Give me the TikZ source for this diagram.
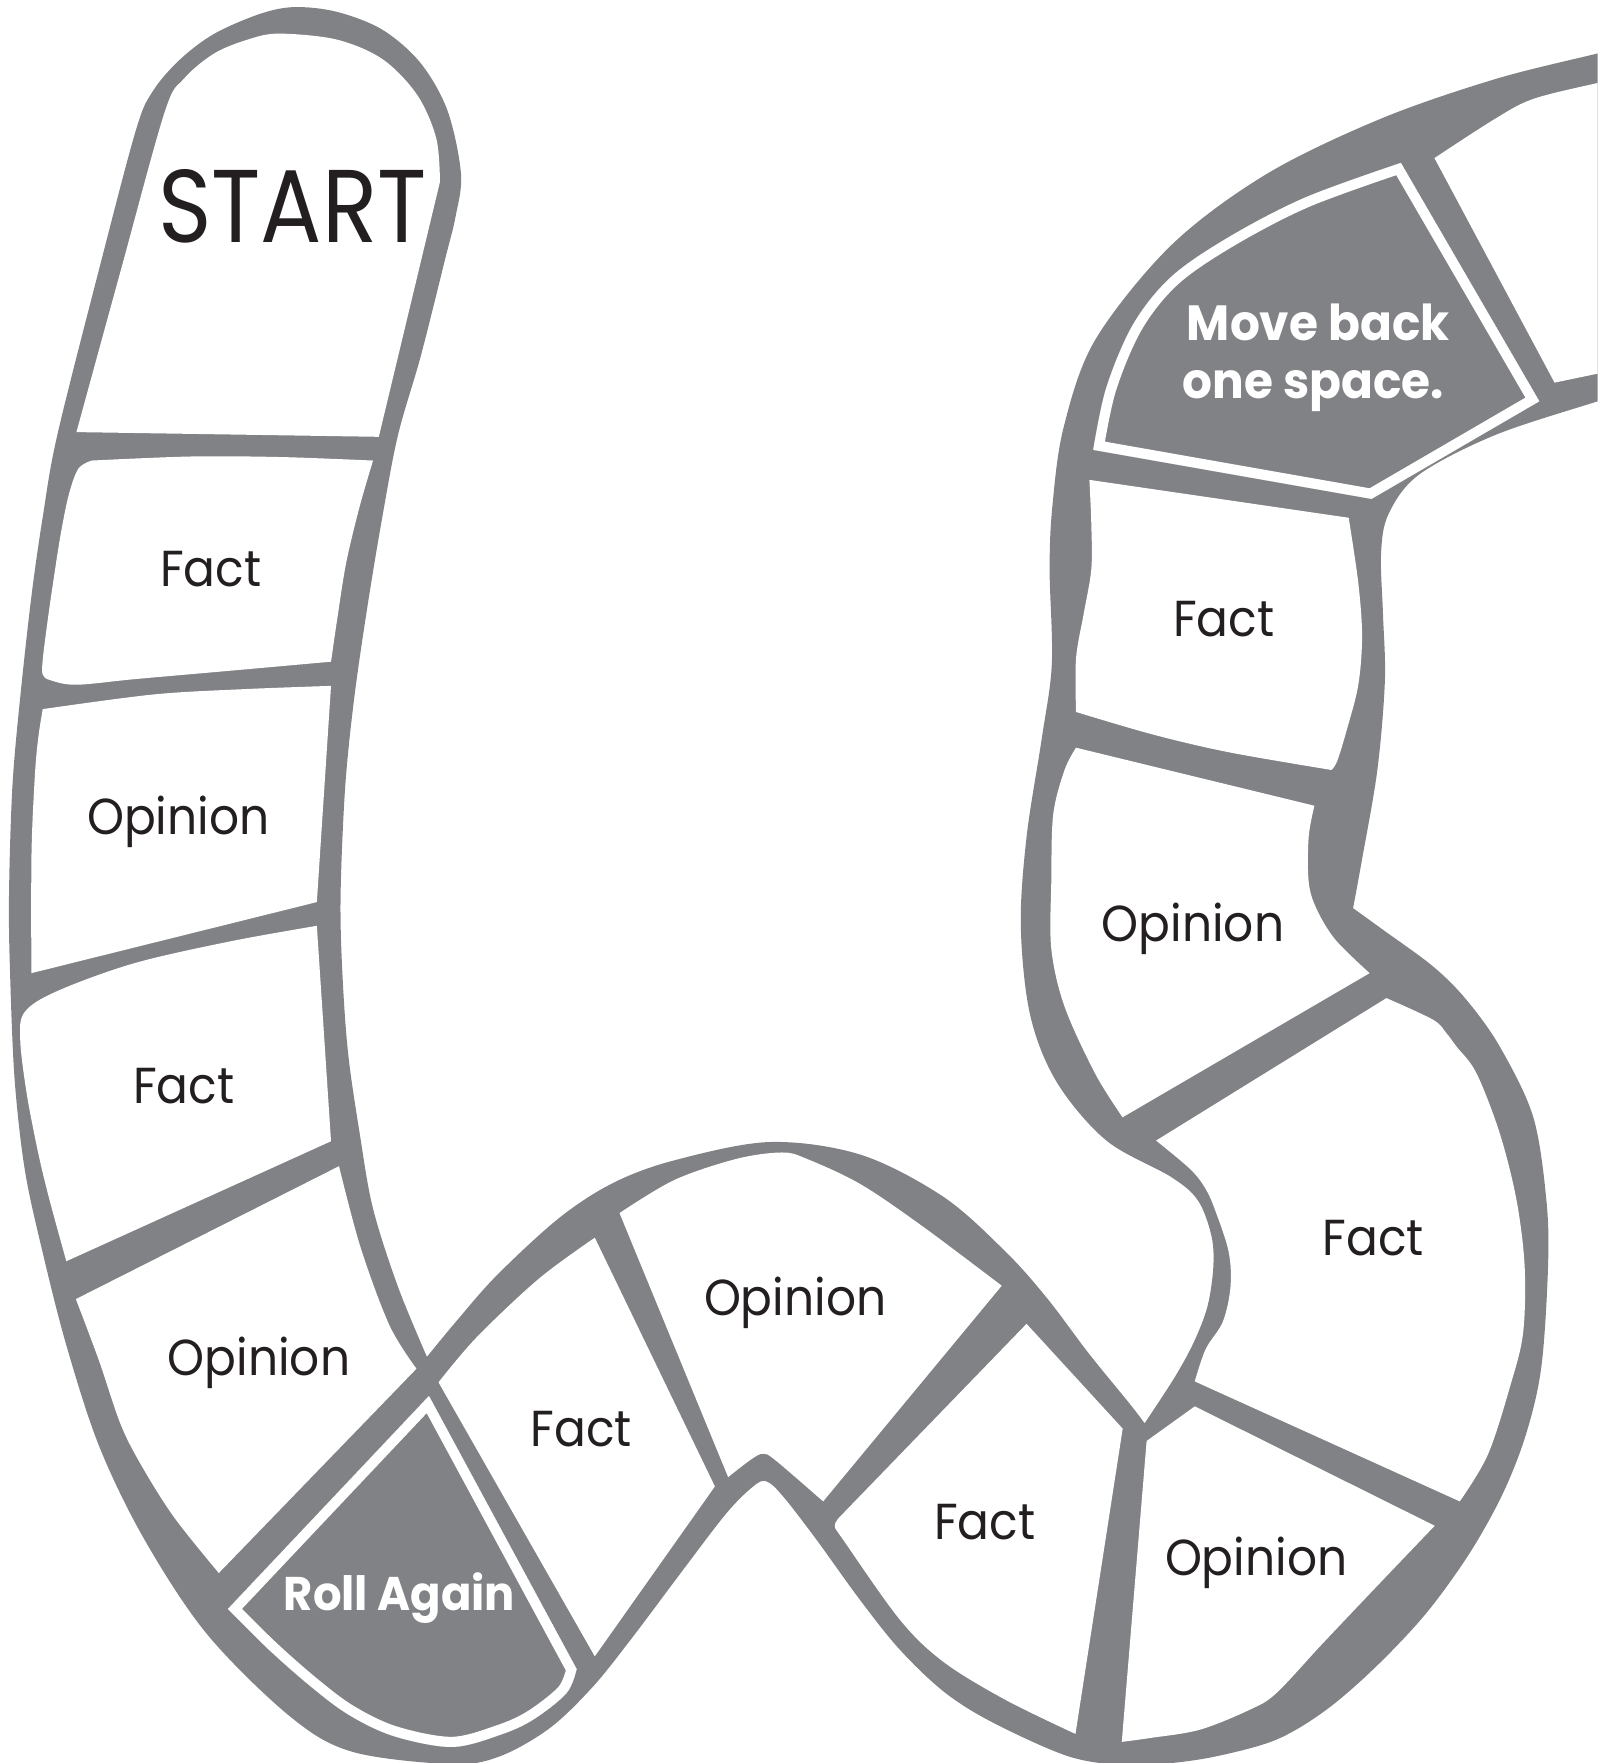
\documentclass[tikz,border=0pt]{standalone}
\usepackage{fontspec}
\setmainfont{Poppins}
\newfontfamily\lblfont{Poppins}[FakeStretch=0.93]
\newfontfamily\startfont{Poppins}[FakeStretch=0.88]
\newfontfamily\boldlbl{Poppins}[FakeStretch=0.95]
\definecolor{trackgray}{RGB}{128,130,133}
\definecolor{ink}{RGB}{35,31,32}
\tikzset{
  lbl/.style={font=\lblfont\fontsize{22.5}{27}\selectfont, text=ink, anchor=base, inner sep=0pt},
  bigl/.style={font=\startfont\fontsize{46}{55}\selectfont, text=ink, anchor=base, inner sep=0pt},
  wlbl/.style={font=\boldlbl\bfseries\fontsize{22}{26}\selectfont, text=white, anchor=base, inner sep=0pt},
  cellfill/.style={fill=white},
  track/.style={fill=trackgray},
  sm/.style={smooth, tension=.55}
}
\def\silhouette{plot[sm] coordinates {(1450,40)(1421,47.5)(1330,70.3)(1228.3,105.5)(1126.6,154.7)(1041.8,218)(974,302.4)(946,380)(936,450)(933.5,506)(935.5,590)(926.5,657)(913,744.4)(907.9,823.8)(916.3,903.2)(940,962.7)(984,1014.4)(1041.8,1046.9)(1065.5,1067.8)(1077.4,1099)(1079.1,1126.9)(1074,1161.6)(1062.1,1193)(1045.2,1224.2)(1018,1265.9)}
 -- plot[sm] coordinates {(1018,1265.9)(1005,1248.8)(968.3,1203.7)(931.4,1154.8)(894.6,1113.5)(839.3,1064.6)(765.5,1027)(684.4,1015.7)(599.7,1032)(545.5,1052)(497.6,1083)(442.3,1133.8)(405.5,1175.5)(379.7,1206.8)}
 -- plot[sm] coordinates {(379.7,1206.8)(353.9,1144.3)(331.7,1074.7)(319.9,1008)(309.7,937.6)(304.6,867.3)(302.9,797)(307,700)(315,621.2)(326.7,540)(340,460)(354,386.8)(374.3,316.4)(396,230)(405,193.4)(410,154.7)(398,98.4)(374,56)(340,26.4)(299.5,10.5)(262,6.3)(231.4,12.3)(190.6,30)(160,53)(136,81)(120.8,116)(88,240)(51,386.8)(38,460)(28,530)(18,620)(11,700)(8,797)(9,867)(13,960)(22,1040)(36.9,1109.5)(59,1196.4)(88.5,1287)(129,1370.2)(184.3,1453.6)(258,1526.6)(313.3,1558)(401.8,1569)(444.6,1562)(489,1536.9)(527.6,1499.8)(563.2,1455.3)(607.6,1396.1)(646.2,1345.7)(669.9,1322)(681.7,1317.5)(696.5,1330.9)(726.2,1369.4)(764.7,1422.7)(800.3,1467.2)(840,1505)(883,1532)(950,1562)(1000,1570)(1037.4,1568.5)(1081.9,1562)(1135.2,1547.2)(1179.7,1520.6)(1224.1,1482)(1268.6,1434.6)(1307.1,1381.3)(1336.8,1327.9)(1357.5,1274.6)(1370.9,1215.3)(1376.8,1126.4)(1375.3,1067)(1363.5,993)(1333.8,930.7)(1304.2,889.2)(1274.6,859.6)(1230.1,827)(1203.4,807.7)}
 -- plot[sm] coordinates {(1203.4,807.7)(1211.4,764.2)(1225,684.8)(1231.7,605.5)(1230,546)(1228.3,492.2)(1235,457)(1262.2,422)(1330,386.8)(1421,356.9)(1450,348)}
 -- (1450,40) -- cycle}
\def\cStart{plot[sm] coordinates {(68,384.3)(107,242)(146.3,100.2)(163.3,70.3)(190.6,47.5)(221,35)(248.4,29.9)(299.5,35.2)(340.3,52.7)(371,84.4)(388,123)(391.3,161.7)} -- (336.9,388.5) -- cycle}
\def\cFactA{plot[sm] coordinates {(81.7,409.6)(170,406)(250,406.5)(331.8,409.6)} -- plot[sm] coordinates {(331.8,409.6)(320,450)(308,500)(300,550)(294.4,588.5)} -- plot[sm] coordinates {(294.4,588.5)(204,596.6)(120,604)(68,609)(45,605)(38,600)(38.1,586)(42.5,551)(47.6,515.7)(54,475)(61.3,439.5)(69.8,416.7)(81.7,409.6)} -- cycle}
\def\cOpA{plot[sm] coordinates {(38,630.7)(136,617.7)(215,613)(294.4,610)} -- (281.8,802.3) -- (27.9,865.5) -- plot[sm] coordinates {(27.9,865.5)(28,760)(31,690)(34,656.3)(38,630.7)} -- cycle}
\def\cFactB{plot[sm] coordinates {(59,1121.7)(44,1067)(34,1025.5)(23.8,972.8)(18,925)(22,900)(51,881.4)(119,856.8)(204,837.4)(281.8,823.4)} -- (294.4,1015) -- cycle}
\def\cOpB{(67.5,1155.4) -- plot[sm] coordinates {(301.5,1037.2)(320.7,1109.5)(346.5,1179)(370.4,1217.3)} -- (194.6,1399) -- plot[sm] coordinates {(194.6,1399)(154.8,1349.4)(125,1302)(107,1266)(88,1210)(67.5,1155.4)} -- cycle}
\def\cRoll{(381.5,1241.6) -- (512.8,1484.4) -- plot[sm] coordinates {(512.8,1484.4)(503.9,1505.7)(474.2,1529.4)(444.6,1543)(401.8,1553.7)(350,1544)(310,1525)(276.5,1500)(239.6,1467.6)(202.7,1431)} -- cycle}
\def\cFactC{plot[sm] coordinates {(390,1229.4)(423.9,1189.4)(479.2,1137.3)(529,1100.8)} -- (635.8,1322) -- (529,1473.1) -- cycle}
\def\cOpC{plot[sm] coordinates {(551,1078.9)(599.7,1049.5)(655,1030.7)(695.5,1025)(717.6,1030.7)(765.5,1053.3)(820.8,1090.9)(890.9,1143.5)} -- (732.1,1335.3) -- plot[sm] coordinates {(732.1,1335.3)(690,1299)(678.8,1292.9)(668,1298)(647.6,1313.7)} -- cycle}
\def\cFactD{(913,1177.4) -- (998.5,1270.6) -- (956.5,1542.1) -- plot[sm] coordinates {(956.5,1542.1)(894.6,1512)(839.3,1478.2)(800.3,1440.5)(749.9,1369.4)(742.5,1357.5)(746,1350)} -- cycle}
\def\cOpD{(1019.8,1281.6) -- (1062.6,1250.8) -- (1276,1357) -- plot[sm] coordinates {(1276,1357)(1230.1,1405)(1176.7,1461.3)(1135.2,1505.8)(1111.5,1520.6)(1067,1538.4)(1022.6,1545.8)(997.7,1549.2)} -- cycle}
\def\cFactE{(1028.2,1014.4) -- plot[sm] coordinates {(1233.1,887.7)(1274.6,907)(1286.4,918.9)(1295.3,930.7)(1313.1,954.4)(1333.8,1007.8)(1348.7,1067)(1356,1126.4)(1354.6,1185.6)(1343.6,1231.2)(1323.3,1293.7)(1298.3,1335.3)} -- (1062.6,1228.6) -- plot[sm] coordinates {(1062.6,1228.6)(1072.3,1199.9)(1087.6,1175.5)(1094.4,1144.3)(1092.7,1113)(1080.8,1076.5)(1072.3,1057.4)(1058.8,1040)(1028.2,1014.4)} -- cycle}
\def\cFactF{(968.9,426.8) -- plot[sm] coordinates {(1199.5,460.5)(1208,518.1)(1211.4,565.7)(1208,609.4)(1197.8,649.1)(1189.3,676.9)(1184.2,684.8)} -- plot[sm] coordinates {(1184.2,684.8)(1092.7,669)(1024.8,653.1)(957,633.2)} -- plot[sm] coordinates {(957,633.2)(957,585.6)(963.8,546)(970.6,506.2)(970.6,466.5)(968.9,426.8)} -- cycle}
\def\cOpF{(957,665) -- (1169,716.6) -- plot[sm] coordinates {(1169,716.6)(1163.9,744.4)(1163.9,784.1)(1170.7,807.9)(1187.6,835.7)(1218.1,865.5)} -- (998.4,993.7) -- plot[sm] coordinates {(998.4,993.7)(974,954.8)(946.8,895.2)(935,843.6)(935,784.1)(936.7,724.5)(946.8,684.8)(957,665)} -- cycle}
\def\cMove{(1245.9,144.9) -- (1369,356.9) -- (1219.8,443.7) -- (972.3,400.1) -- plot[sm] coordinates {(972.3,400.1)(984,344.6)(1007.9,288.3)(1041.8,246.1)(1092.7,211)(1160.5,175.8)(1245.9,144.9)} -- cycle}
\def\cTR{plot[sm] coordinates {(1275.8,140.6)(1330,105.5)(1364,87.9)(1421,73.8)(1450,68)} -- (1450,330) -- (1421,332.3) -- (1382.6,340.3) -- cycle}
\begin{document}
\begin{tikzpicture}[x=0.5pt,y=-0.5pt]
\useasboundingbox (0,0) rectangle (1421,1568);
\clip (0,0) rectangle (1421,1568);
% gray track
\fill[track] \silhouette;
% white spaces
\foreach \c in {\cStart,\cFactA,\cOpA,\cFactB,\cOpB,\cRoll,\cFactC,\cOpC,\cFactD,\cOpD,\cFactE,\cFactF,\cOpF,\cMove,\cTR}{
  \fill[cellfill] \c;
}
% special spaces: dark fill with white inner rim
\begin{scope}
  \clip \cRoll;
  \fill[track] \cRoll;
  \draw[white, line width=9pt] \cRoll;
\end{scope}
\begin{scope}
  \clip \cMove;
  \fill[track] \cMove;
  \draw[white, line width=9pt] \cMove;
\end{scope}
% labels
\node[bigl] (tStart) at (260,216) {START};
\node[lbl] (t1) at (187.5,522) {Fact};
\node[lbl] (t2) at (158.6,742.5) {Opinion};
\node[lbl] (t3) at (163.3,981.6) {Fact};
\node[lbl] (t4) at (230.4,1223.5) {Opinion};
\node[wlbl, font=\boldlbl\bfseries\fontsize{21}{25}\selectfont] (t5) at (355.3,1432.6) {Roll Again};
\node[lbl] (t6) at (516.9,1286.8) {Fact};
\node[lbl] (t7) at (707.2,1169.9) {Opinion};
\node[lbl] (t8) at (875.8,1369.1) {Fact};
\node[lbl] (t9) at (1117.2,1401.5) {Opinion};
\node[lbl] (t10) at (1221.5,1116.5) {Fact};
\node[lbl] (t11) at (1061.1,837.7) {Opinion};
\node[lbl] (t12) at (1088.5,565.7) {Fact};
\node[wlbl] (t13a) at (1172.4,302.4) {Move back};
\node[wlbl] (t13b) at (1168,354.4) {one space.};
\end{tikzpicture}
\end{document}
